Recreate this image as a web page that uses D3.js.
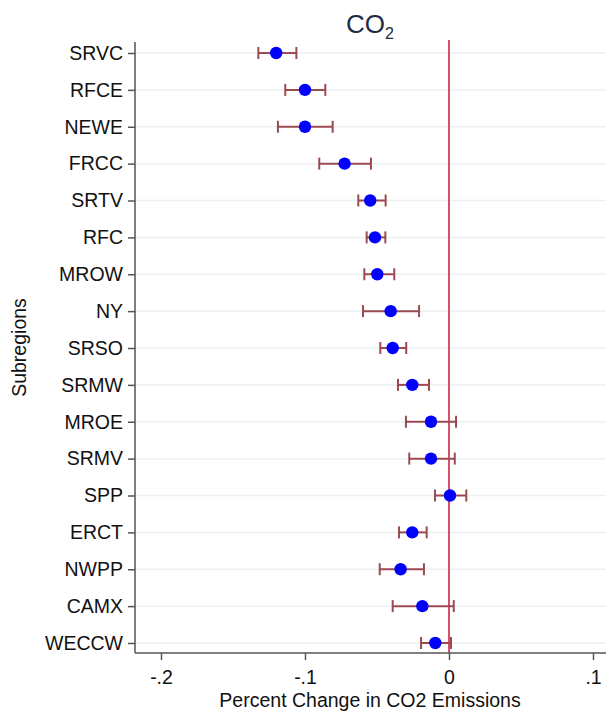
<!DOCTYPE html>
<html>
<head>
<meta charset="utf-8">
<script src="https://cdn.jsdelivr.net/npm/d3@7"></script>
<style>
  html, body { margin: 0; padding: 0; background: #fff; }
  svg { display: block; font-family: "Liberation Sans", Arial, Helvetica, sans-serif; }
</style>
</head>
<body>
<svg id="chart" width="606" height="714"></svg>
<script>
// Subregions, top to bottom
const regions = ["SRVC","RFCE","NEWE","FRCC","SRTV","RFC","MROW","NY","SRSO","SRMW","MROE","SRMV","SPP","ERCT","NWPP","CAMX","WECCW"];
// Point estimates of the percent change in CO2 emissions
const estimates = [-0.120,-0.100,-0.100,-0.0725,-0.0547,-0.0514,-0.0498,-0.0405,-0.0391,-0.0255,-0.0125,-0.0125,0.0007,-0.0255,-0.0336,-0.0185,-0.0095];
// Confidence interval bounds
const lower = [-0.1324,-0.1137,-0.1188,-0.0901,-0.0630,-0.0572,-0.0588,-0.0597,-0.0477,-0.0354,-0.0299,-0.0276,-0.0097,-0.0347,-0.0481,-0.0391,-0.0194];
const upper = [-0.1060,-0.0859,-0.0808,-0.0542,-0.0440,-0.0442,-0.0380,-0.0208,-0.0297,-0.0139,0.0049,0.0040,0.0120,-0.0155,-0.0174,0.0033,0.0014];
const xTicks = [-0.2,-0.1,0,0.1];
const xTickLabels = ["-.2","-.1","0",".1"];

const svg = d3.select("#chart");
const plotLeft = 135, plotRight = 606, plotTop = 42, plotBottom = 653;
const labelFont = "'Liberation Sans', Arial, sans-serif";

const x = d3.scaleLinear().domain([-0.2, 0.1]).range([161, 593]);
const y = d3.scalePoint().domain(regions).range([53, 643]);

// horizontal grid lines
svg.append("g").selectAll("line").data(regions).join("line")
  .attr("x1", plotLeft).attr("x2", plotRight)
  .attr("y1", d => y(d)).attr("y2", d => y(d))
  .attr("stroke", "#eaf1f3").attr("stroke-width", 1.5);

// reference line at zero
svg.append("line")
  .attr("x1", x(0)).attr("x2", x(0))
  .attr("y1", 40).attr("y2", plotBottom)
  .attr("stroke", "#d5506c").attr("stroke-width", 2);

// y axis
const yAxis = svg.append("g").attr("transform", `translate(${plotLeft},0)`)
  .call(d3.axisLeft(y).tickSize(7).tickPadding(5));
yAxis.select(".domain").attr("d", `M0,${plotTop}V${plotBottom}`).attr("stroke", "#555").attr("stroke-width", 1.5);
yAxis.selectAll(".tick line").attr("stroke", "#555").attr("stroke-width", 1.5);
yAxis.selectAll(".tick text").attr("font-size", 19.5).attr("fill", "#111")
  .attr("font-family", labelFont);

// x axis
const xAxis = svg.append("g").attr("transform", `translate(0,${plotBottom})`)
  .call(d3.axisBottom(x).tickValues(xTicks).tickFormat((d, i) => xTickLabels[i]).tickSize(7).tickPadding(10));
xAxis.select(".domain").attr("d", `M${plotLeft},0H${plotRight}`).attr("stroke", "#555").attr("stroke-width", 1.5);
xAxis.selectAll(".tick line").attr("stroke", "#555").attr("stroke-width", 1.5);
xAxis.selectAll(".tick text").attr("font-size", 19.5).attr("fill", "#111")
  .attr("font-family", labelFont);

// confidence intervals
const ci = svg.append("g").attr("stroke", "#9b4a50").attr("stroke-width", 2);
regions.forEach((r, i) => {
  const yy = y(r);
  ci.append("line").attr("x1", x(lower[i])).attr("x2", x(upper[i])).attr("y1", yy).attr("y2", yy);
  ci.append("line").attr("x1", x(lower[i])).attr("x2", x(lower[i])).attr("y1", yy - 6).attr("y2", yy + 6);
  ci.append("line").attr("x1", x(upper[i])).attr("x2", x(upper[i])).attr("y1", yy - 6).attr("y2", yy + 6);
});

// point estimates
svg.append("g").selectAll("circle").data(regions).join("circle")
  .attr("cx", (d, i) => x(estimates[i]))
  .attr("cy", d => y(d))
  .attr("r", 6.2)
  .attr("fill", "#0000ff");

// title
const title = svg.append("text")
  .attr("x", 370).attr("y", 33)
  .attr("text-anchor", "middle")
  .attr("font-size", 26).attr("fill", "#1e2b45");
title.append("tspan").text("CO");
title.append("tspan").attr("font-size", 16).attr("dy", 6).text("2");

// axis titles
svg.append("text")
  .attr("x", 370).attr("y", 707)
  .attr("text-anchor", "middle")
  .attr("font-size", 19.5).attr("fill", "#111")
  .text("Percent Change in CO2 Emissions");

svg.append("text")
  .attr("transform", `translate(26,${(plotTop + plotBottom) / 2}) rotate(-90)`)
  .attr("text-anchor", "middle")
  .attr("font-size", 19.5).attr("fill", "#111")
  .text("Subregions");
</script>
</body>
</html>
